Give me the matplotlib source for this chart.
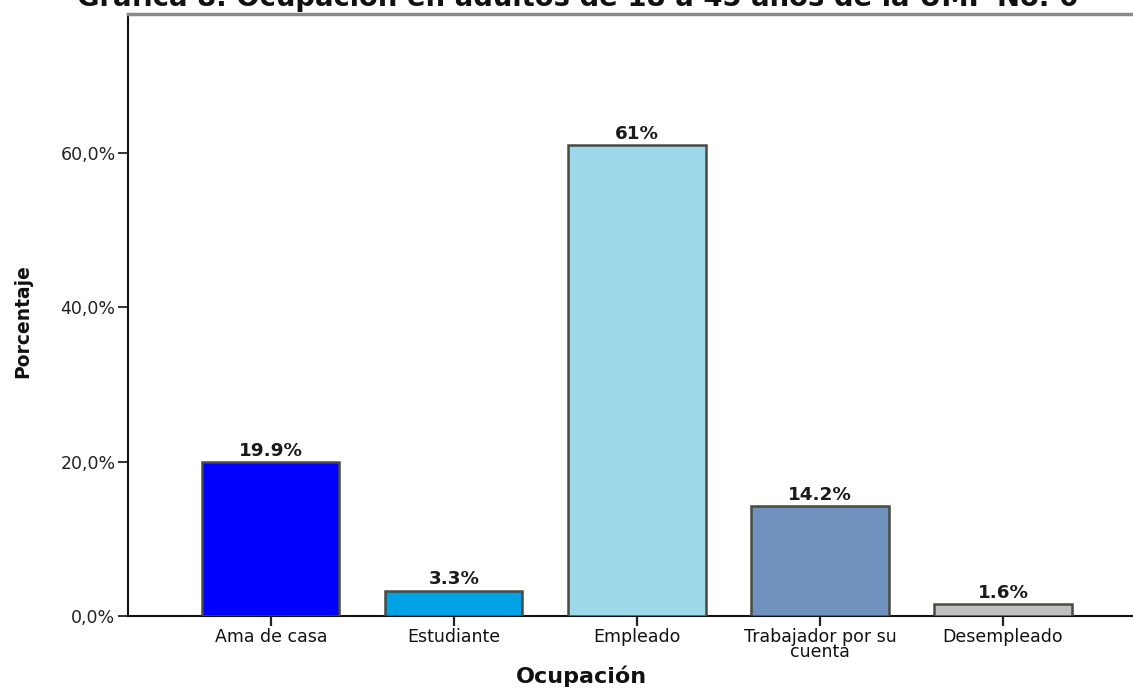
import matplotlib
matplotlib.use("Agg")
import matplotlib.pyplot as plt
from matplotlib.ticker import FuncFormatter

categories = ["Ama de casa", "Estudiante", "Empleado", "Trabajador por su\ncuenta", "Desempleado"]
values = [19.9, 3.3, 61.0, 14.2, 1.6]
value_labels = ["19.9%", "3.3%", "61%", "14.2%", "1.6%"]
colors = ["#0000FF", "#00A2E6", "#9DD9EA", "#6F91BE", "#C0C0C0"]
y_ticks = [0, 20, 40, 60]

title = "Gráfica 8. Ocupación en adultos de 18 a 45 años de la UMF No. 6"

plt.rcParams["font.family"] = ["DejaVu Sans"]

fig = plt.figure(figsize=(11.33, 6.88), dpi=100)
ax = fig.add_axes([128 / 1133, 1 - 616 / 688, 1 - 128 / 1133, (616 - 14) / 688])

x = list(range(len(categories)))
ax.bar(x, values, width=0.75, color=colors, edgecolor="#4a4a40", linewidth=1.8, zorder=3)

for xi, v, lab in zip(x, values, value_labels):
    ax.annotate(lab, (xi, v), xytext=(0, 1.5), textcoords="offset points",
                ha="center", va="bottom", fontsize=13.2, fontweight="bold", color="#1a1a1a")

ax.set_xlim(-0.78, 4.71)
ax.set_ylim(0, 78)
ax.set_yticks(y_ticks)
ax.yaxis.set_major_formatter(FuncFormatter(lambda v, p: f"{v:.1f}%".replace(".", ",")))
ax.set_xticks(x)
ax.set_xticklabels(categories, fontsize=12.5, linespacing=0.78)
ax.tick_params(axis="y", labelsize=12.5, length=7, width=1.3, colors="#222222",
               labelcolor="#222222", pad=2)
ax.tick_params(axis="x", length=7, width=1.6, colors="#222222", labelcolor="#111111", pad=2)

for s in ("left", "bottom"):
    ax.spines[s].set_color("#111111")
    ax.spines[s].set_linewidth(1.5)
ax.spines["right"].set_visible(False)
ax.spines["top"].set_color("#8a8a8a")
ax.spines["top"].set_linewidth(2.5)

ax.set_xlabel("Ocupación", fontsize=16, fontweight="bold", color="#111111")
ax.xaxis.label.set_va("baseline")
ax.xaxis.set_label_coords((581 - 128) / 1005, (616 - 683) / 602)

ax.set_ylabel("Porcentaje", fontsize=13.5, fontweight="bold", color="#111111")
ax.yaxis.label.set_va("center")
ax.yaxis.set_label_coords((23 - 128) / 1005, 0.49)

fig.text(578 / 1133, 1 - 6 / 688, title, ha="center", va="baseline",
         fontsize=19.8, fontweight="bold", color="#111111")

fig.savefig("out.png", dpi=100)
